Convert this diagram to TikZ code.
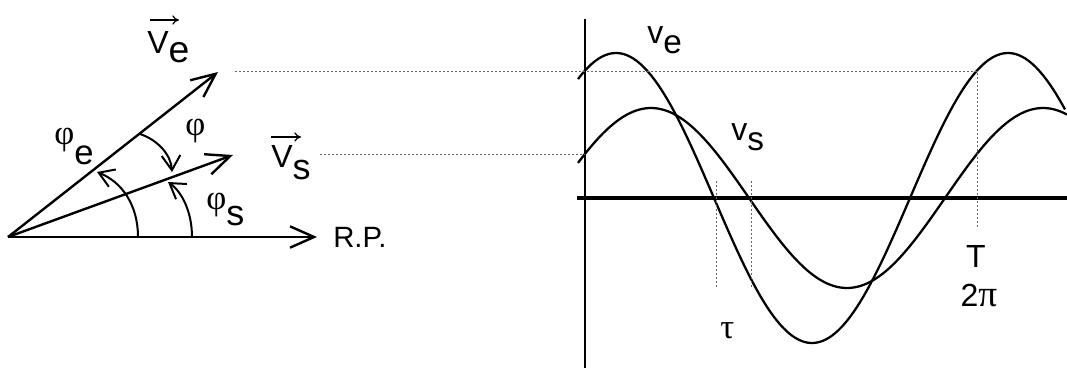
\documentclass[tikz,border=0pt]{standalone}
\usepackage{fontspec}
\setmainfont{Liberation Sans}
\newfontfamily\grk{Liberation Serif}
\newfontfamily\lsans{Liberation Sans}
\usetikzlibrary{arrows.meta}
\newcommand\lowered[3]{\raisebox{-#1}{\fontsize{#2}{#2}\selectfont #3}}
\begin{document}
\begin{tikzpicture}[x=0.75pt,y=-0.75pt,
  phasor/.style={line width=1.8pt,-{Straight Barb[length=18pt,width=16pt,line width=1.8pt]}},
  angarc/.style={line width=1.5pt,-{Straight Barb[length=11pt,width=14pt,line width=1.5pt]}},
  overarrow/.style={line width=0.9pt,-{To[length=5pt,width=7pt]}},
  wave/.style={line width=1.7pt},
  axis/.style={line width=1.5pt},
  guide/.style={black!60,line width=0.6pt,dash pattern=on 1.5pt off 1.5pt},
  lbl/.style={inner sep=0pt,anchor=base west,font=\fontsize{24}{24}\selectfont},
  glbl/.style={inner sep=0pt,anchor=base west,font=\fontsize{26}{26}\selectfont\grk}]
\useasboundingbox (0,0) rectangle (1067,369);

% ---------- phasor diagram ----------
\coordinate (O) at (8,237);
\coordinate (Ve) at (218,72);
\coordinate (Vs) at (233,155);
\coordinate (RP) at (317,237);
\draw[phasor] (O) -- (RP);
\draw[phasor] (O) -- (Vs);
\draw[phasor] (O) -- (Ve);

% angle arcs
\coordinate (ae0) at (138,237);
\coordinate (ae1) at (97,172);
\coordinate (as0) at (192,237);
\coordinate (as1) at (168,182);
\coordinate (ap0) at (140,134);
\coordinate (ap1) at (172,172);
\draw[angarc] (ae0) .. controls (138,205) and (122,182) .. (ae1);
\draw[angarc] (as0) .. controls (192,212) and (182,192) .. (as1);
\draw[angarc] (ap0) .. controls (158,140) and (171,155) .. (ap1);

% labels
\node[lbl] (lVe) at (147,53) {V\lowered{7pt}{28}{e}};
\draw[overarrow] (150,20) -- (179,20);
\node[lbl] (lVs) at (271,167) {V\lowered{9pt}{27}{s}};
\draw[overarrow] (271,137) -- (301,137);
\node[glbl] (lphie) at (54,144) {φ\lowered{15pt}{26}{\lsans e}};
\node[glbl] (lphi) at (185,135) {φ};
\node[glbl] (lphis) at (206,209) {φ\lowered{12pt}{27}{\lsans s}};
\node[lbl,font=\fontsize{22}{22}\selectfont] (lRP) at (333,247) {R.P.};

% ---------- time diagram ----------
\coordinate (yb) at (585,368);
\coordinate (yt) at (585,19);
\coordinate (xl) at (577,198);
\coordinate (xr) at (1067,198);
\draw[axis] (yb) -- (yt);
\draw[line width=3pt] (xl) -- (xr);

\draw[wave] plot[domain=578:1065,samples=160] (\x,{198-145*sin(0.918367*(\x-518))});
\draw[wave] plot[domain=578:1067,samples=160] (\x,{198-90*sin(0.918367*(\x-553))});

% guide lines
\coordinate (g1a) at (235,71);
\coordinate (g1b) at (977,71);
\coordinate (g1c) at (977,228);
\coordinate (g2a) at (320,154);
\coordinate (g2b) at (585,154);
\coordinate (t1a) at (716,181);
\coordinate (t1b) at (716,287);
\coordinate (t2a) at (751,181);
\coordinate (t2b) at (751,287);
\draw[guide] (g1a) -- (g1b) -- (g1c);
\draw[guide] (g2a) -- (g2b);
\draw[guide] (t1a) -- (t1b);
\draw[guide] (t2a) -- (t2b);

\node[lbl] (lve) at (647,43) {v\lowered{8pt}{25}{e}};
\node[lbl] (lvs) at (731,140) {v\lowered{7.5pt}{25}{s}};
\node[glbl] (ltau) at (720,338) {τ};
\node[lbl,anchor=base] (lT) at (976,267) {T};
\node[lbl,anchor=base] (l2pi) at (979,306) {2{\grk\fontsize{28}{28}\selectfont π}};
\end{tikzpicture}
\end{document}
